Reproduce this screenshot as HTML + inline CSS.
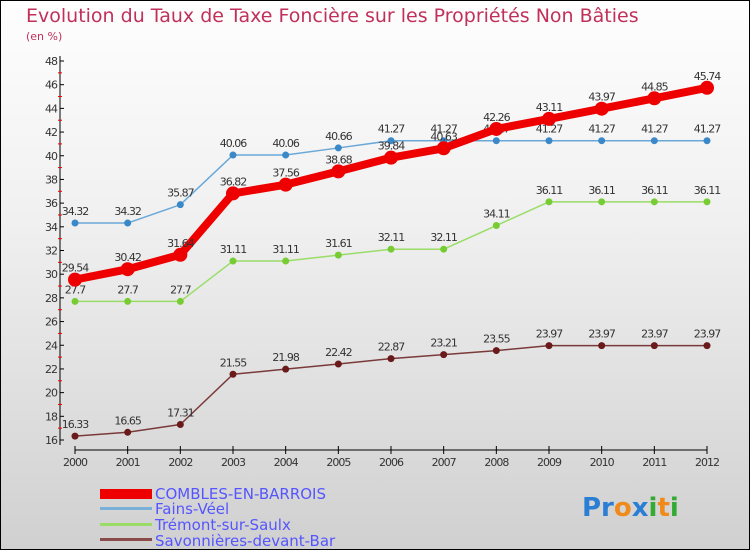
<!DOCTYPE html>
<html><head><meta charset="utf-8"><style>
body{margin:0;}
#wrap{width:750px;height:550px;position:relative;overflow:hidden;background:linear-gradient(#fefefe,#f0f0f0 40%,#d0d0d0);font-family:"DejaVu Sans","Liberation Sans",sans-serif;}
</style></head><body>
<div id="wrap">
<svg id="chart" width="750" height="550">
<rect x="0.5" y="0.5" width="749" height="549" fill="none" stroke="#000"/>
<text x="26" y="22" font-size="19" fill="#c0305a">Evolution du Taux de Taxe Foncière sur les Propriétés Non Bâties</text>
<text x="26" y="40" font-size="11" fill="#c0305a">(en %)</text>
<g id="axes"></g><g id="series"></g>
<g font-size="15" fill="#5555ff">
<rect x="100" y="489" width="52" height="10" fill="#ee0000"/>
<text x="155" y="499">COMBLES-EN-BARROIS</text>
<rect x="100" y="507" width="52" height="3" fill="#7ab0d8"/>
<text x="155" y="514">Fains-Véel</text>
<rect x="100" y="523" width="52" height="3" fill="#99dd66"/>
<text x="155" y="530">Trémont-sur-Saulx</text>
<rect x="100" y="538" width="52" height="3" fill="#8a4a4a"/>
<text x="155" y="546">Savonnières-devant-Bar</text>
</g>
<text x="582" y="516" font-size="26" font-weight="bold"><tspan fill="#2a7fd4">Pr</tspan><tspan fill="#f08a1a">o</tspan><tspan fill="#2a7fd4">x</tspan><tspan fill="#33aa33">i</tspan><tspan fill="#f08a1a">t</tspan><tspan fill="#33aa33">i</tspan></text>
</svg>
</div>
<script>
const years=[2000,2001,2002,2003,2004,2005,2006,2007,2008,2009,2010,2011,2012];
const combles=[29.54,30.42,31.64,36.82,37.56,38.68,39.84,40.63,42.26,43.11,43.97,44.85,45.74];
const fains=[34.32,34.32,35.87,40.06,40.06,40.66,41.27,41.27,41.27,41.27,41.27,41.27,41.27];
const tremont=[27.7,27.7,27.7,31.11,31.11,31.61,32.11,32.11,34.11,36.11,36.11,36.11,36.11];
const savon=[16.33,16.65,17.31,21.55,21.98,22.42,22.87,23.21,23.55,23.97,23.97,23.97,23.97];
const yTicks=[16,18,20,22,24,26,28,30,32,34,36,38,40,42,44,46,48];
const NS="http://www.w3.org/2000/svg";
const x=i=>75+i*(707-75)/(years.length-1);
const y=v=>440-(v-16)*(440-61)/32;
function mk(t,a,p){const e=document.createElementNS(NS,t);for(const k in a)e.setAttribute(k,a[k]);p.appendChild(e);return e;}
const ax=document.getElementById('axes');
let l=mk('line',{x1:60,y1:56,x2:60,y2:445,stroke:'#000'},ax);


l=mk('line',{x1:75,y1:450,x2:707,y2:450,stroke:'#000'},ax);


yTicks.forEach((v,i)=>{
 mk('line',{x1:60,y1:y(v),x2:64,y2:y(v),stroke:'#000'},ax);
 if(i<yTicks.length-1) mk('line',{x1:58,y1:y(v+1),x2:62,y2:y(v+1),stroke:'#e00'},ax);
 const t=mk('text',{x:57,y:y(v)+4,'font-size':11,fill:'#333','text-anchor':'end','letter-spacing':'-1'},ax);
 t.textContent=v;
 
 
});
years.forEach((yr,i)=>{
 mk('line',{x1:x(i),y1:446,x2:x(i),y2:454,stroke:'#000'},ax);
 const t=mk('text',{x:x(i),y:466,'font-size':11,fill:'#333','text-anchor':'middle','letter-spacing':'-1'},ax);
 t.textContent=yr;
 
 
});
const sg=document.getElementById('series');
function draw(vals,color,w,r,name,dot){
 const g=mk('g',{},sg);
 
 
 const p=mk('polyline',{points:vals.map((v,i)=>x(i)+','+y(v)).join(' '),fill:'none',stroke:color,'stroke-width':w,'stroke-linejoin':'round'},g);
 
 
 vals.forEach((v,i)=>{
  const c=mk('circle',{cx:x(i),cy:y(v),r:r,fill:dot},g);
  
  
  const t=mk('text',{x:x(i),y:y(v)-8,'font-size':11,fill:'#333','text-anchor':'middle','letter-spacing':'-1'},g);
  t.textContent=v;
  
  
 });
}
draw(savon,'#7a3a3a',1.5,3.5,'savonnieres','#6a1a1a');
draw(tremont,'#99dd66',1.5,3.5,'tremont','#77cc33');
draw(fains,'#6aa8d8',1.5,3.5,'fains','#3a88c8');
draw(combles,'#ee0000',8,7,'combles','#ee0000');
</script>
</body></html>
